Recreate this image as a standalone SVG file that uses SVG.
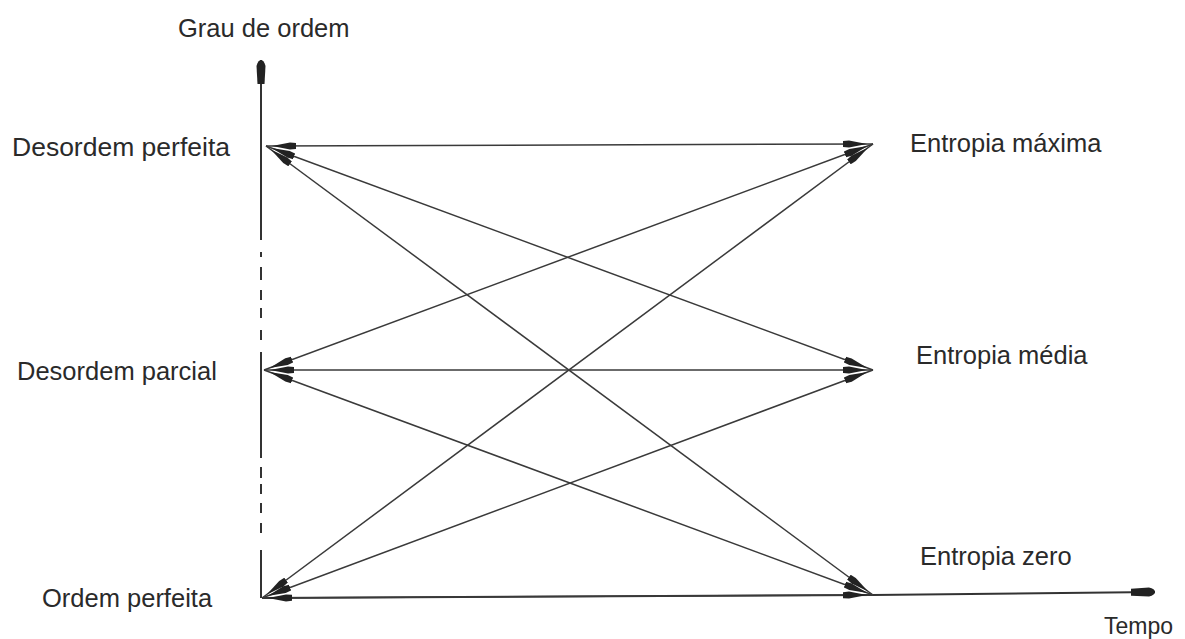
<svg xmlns="http://www.w3.org/2000/svg" width="1185" height="639" viewBox="0 0 1185 639">
<style>
text{font-family:"Liberation Sans",Arial,sans-serif;font-size:25.5px;fill:#2a2a2a}
.ln{stroke:#3a3a3a;stroke-width:1.5;fill:none;marker-start:url(#ah);marker-end:url(#ah)}
.ax{stroke:#333;stroke-width:2;fill:none}
</style>
<defs>
<marker id="ah" viewBox="0 0 30 8" refX="30" refY="4" markerWidth="30" markerHeight="8" markerUnits="userSpaceOnUse" orient="auto-start-reverse">
<path d="M0,1 L6,0.5 L24,4 L6,7.5 L0,7 Z" fill="#222"/>
</marker>
<marker id="ax" viewBox="0 0 24 10" refX="24" refY="5" markerWidth="24" markerHeight="10" markerUnits="userSpaceOnUse" orient="auto">
<path d="M0,1.5 L18,0.5 Q24,2 24,5 Q24,8 18,9.5 L0,8.5 Z" fill="#222"/>
</marker>
</defs>
<g id="axes">
<path class="ax" d="M261,340 L261,330 M261,318 L261,308 M261,300 L261,290 M261,280 L261,267 M261,257 L261,252"/>
<path class="ax" d="M261,240 L261,60" marker-end="url(#ax)"/>
<path class="ax" d="M261,598 L261,550 M261,533 L261,523 M261,513 L261,503 M261,494 L261,484 M261,478 L261,467 M261,458 L261,352"/>
<path class="ax" d="M262,598 L873,595 L1155,592" marker-end="url(#ax)"/>
</g>
<g id="connectors">
<line class="ln" x1="266" y1="146" x2="873" y2="144"/>
<line class="ln" x1="266" y1="146" x2="873" y2="370"/>
<line class="ln" x1="266" y1="146" x2="873" y2="595"/>
<line class="ln" x1="264" y1="370" x2="873" y2="144"/>
<line class="ln" x1="264" y1="370" x2="873" y2="370"/>
<line class="ln" x1="264" y1="370" x2="873" y2="595"/>
<line class="ln" x1="262" y1="598" x2="873" y2="144"/>
<line class="ln" x1="262" y1="598" x2="873" y2="370"/>
<line class="ln" x1="262" y1="598" x2="873" y2="595"/>
</g>
<g id="label-y"><text x="178" y="37">Grau de ordem</text></g>
<g id="node-desordem-perfeita"><text x="12" y="156" style="font-size:26.5px">Desordem perfeita</text></g>
<g id="node-desordem-parcial"><text x="17" y="380">Desordem parcial</text></g>
<g id="node-ordem-perfeita"><text x="42" y="607">Ordem perfeita</text></g>
<g id="node-entropia-maxima"><text x="910" y="152">Entropia máxima</text></g>
<g id="node-entropia-media"><text x="916" y="364">Entropia média</text></g>
<g id="node-entropia-zero"><text x="920" y="565">Entropia zero</text></g>
<g id="label-x"><text x="1104" y="634" style="font-size:23px">Tempo</text></g>
</svg>
